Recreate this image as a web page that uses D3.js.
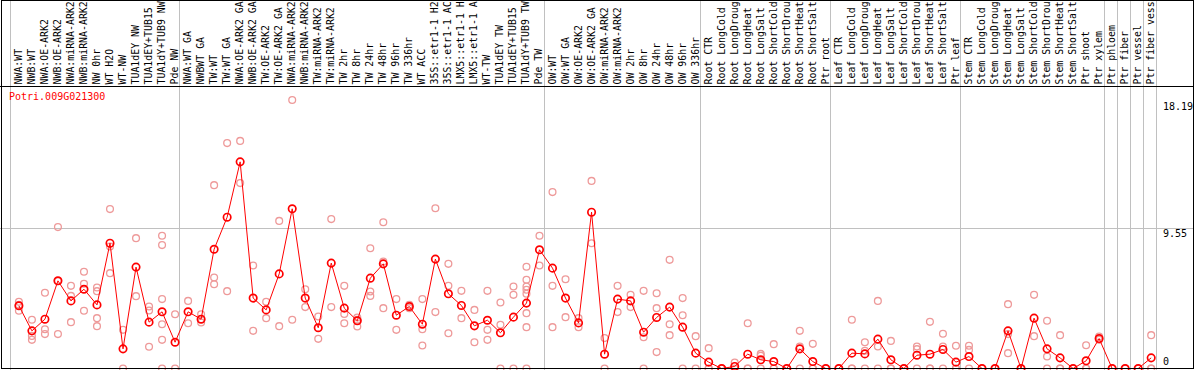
<!DOCTYPE html>
<html>
<head>
<meta charset="utf-8">
<script src="https://cdn.jsdelivr.net/npm/d3@7"></script>
<style>
  body { margin: 0; background: #fff; }
  text { font-family: "DejaVu Sans Mono", monospace; font-size: 10px; }
</style>
</head>
<body>
<script>
const gene = "Potri.009G021300";

// sample names as shown in the header (cut to the visible width)
const labels = [
    "NWA:WT", "NWB:WT", "NWA:OE-ARK2", "NWB:OE-ARK2", "NWA:miRNA-ARK2", "NWB:miRNA-ARK2",
    "NW 0hr", "WT H2O", "WT-NW", "TUA1dEY NW", "TUA1dEY+TUB15", "TUA1dY+TUB9 NW", "Pde NW",
    "NWA:WT GA", "NWBWT GA", "TW:WT", "TW:WT GA", "NWA:OE-ARK2 GA", "NWB:OE-ARK2 GA",
    "TW:OE-ARK2", "TW:OE-ARK2 GA", "NWA:miRNA-ARK2", "NWB:miRNA-ARK2", "TW:miRNA-ARK2",
    "TW:miRNA-ARK2", "TW 2hr", "TW 8hr", "TW 24hr", "TW 48hr", "TW 96hr", "TW 336hr",
    "WT ACC", "35S::etr1-1 H2", "35S::etr1-1 AC", "LMX5::etr1-1 H", "LMX5::etr1-1 A",
    "WT-TW", "TUA1dEY TW", "TUA1dEY+TUB15", "TUA1dY+TUB9 TW", "Pde TW",
    "OW:WT", "OW:WT GA", "OW:OE-ARK2", "OW:OE-ARK2 GA", "OW:miRNA-ARK2", "OW:miRNA-ARK2",
    "OW 2hr", "OW 8hr", "OW 24hr", "OW 48hr", "OW 96hr", "OW 336hr",
    "Root CTR", "Root LongCold", "Root LongDroug", "Root LongHeat", "Root LongSalt",
    "Root ShortCold", "Root ShortDrou", "Root ShortHeat", "Root ShortSalt", "Ptr root",
    "Leaf CTR", "Leaf LongCold", "Leaf LongDroug", "Leaf LongHeat", "Leaf LongSalt",
    "Leaf ShortCold", "Leaf ShortDrou", "Leaf ShortHeat", "Leaf ShortSalt", "Ptr leaf",
    "Stem CTR", "Stem LongCold", "Stem LongDroug", "Stem LongHeat", "Stem LongSalt",
    "Stem ShortCold", "Stem ShortDrou", "Stem ShortHeat", "Stem ShortSalt", "Ptr shoot", "Ptr xylem",
    "Ptr phloem", "Ptr fiber", "Ptr vessel", "Ptr fiber vess"
];

// mean expression per sample
const means = [
    4.25, 2.55, 3.34, 5.94, 4.58, 5.37, 4.31, 8.49, 1.33, 6.87, 3.14, 3.84, 1.78,
    3.84, 3.34, 8.08, 10.25, 14.00, 4.77, 3.97, 6.41, 10.82, 4.77, 2.76, 7.14, 4.09,
    3.23, 6.12, 7.09, 3.61, 4.20, 3.00, 7.41, 5.06, 4.27, 2.89, 3.27, 2.42, 3.48, 4.43, 8.04,
    6.80, 4.77, 3.09, 10.59, 0.97, 4.70, 4.58, 2.46, 3.46, 4.16, 2.80, 1.04,
    0.43, 0, 0.14, 0.97, 0.59, 0.47, 0, 1.33, 0.47, 0,
    0, 1.04, 0.99, 1.99, 0.59, 0, 0.90, 0.97, 1.29, 0.43,
    0.81, 0, 0, 2.55, 0, 3.41, 1.33, 0.72, 0, 0.52, 2.03,
    0, 0, 0, 0.72
];

// individual replicates per sample
const replicates = [
    [4.52, 4.31, 3.91], [3.30, 2.21, 1.94], [5.13, 2.66, 2.33], [9.58, 5.92, 2.33],
    [5.60, 4.92, 3.14], [6.55, 5.74, 3.91], [5.49, 5.24, 3.41, 2.87], [10.80, 8.27, 6.46],
    [2.62, 0], [8.83, 4.90], [4.20, 3.93, 1.47], [8.99, 8.36, 4.70, 3.00, 1.94, 0], [3.68, 0],
    [4.58, 3.07], [3.68, 3.34, 3.12], [12.42, 6.17, 5.71], [15.27, 5.24], [15.42, 12.56],
    [6.98, 2.55], [4.52, 3.41], [10.00, 2.87], [18.19, 3.30], [5.37, 4.16], [3.52, 2.01],
    [10.12, 4.16], [5.60, 3.70, 3.07], [3.46, 3.30, 2.85], [8.15, 5.22, 4.92], [9.91, 7.25, 4.09],
    [4.70, 2.62], [4.31, 4.09], [4.70, 2.66, 1.56], [10.86, 3.82], [7.09, 5.60, 2.39],
    [5.26, 3.41], [3.97, 1.78], [5.26, 2.62, 1.94], [4.47, 2.96, 0], [5.56, 4.99, 0],
    [6.89, 6.01, 5.56, 5.33, 5.06, 3.75, 2.80, 0], [8.99, 6.98],
    [11.95, 5.60, 2.80], [6.05, 3.48], [3.41, 2.80], [12.71, 8.49], [2.06, 0], [5.60, 3.82],
    [4.99, 4.16], [5.26, 2.12, 0], [5.10, 4.09, 1.11], [7.36, 3.00, 2.26], [4.77, 3.61, 0], [2.19, 0],
    [1.38, 0, 0], [0, 0], [0.41, 0], [3.07, 0, 0], [0.99, 0.86, 0], [1.65, 0, 0], [0],
    [2.55, 1.49, 0], [1.67, 0, 0], [0],
    [0], [3.30, 0, 0], [1.78, 1.20, 0], [4.58, 1.49, 0], [1.87, 0, 0], [0], [1.49, 1.31, 0],
    [3.16, 0, 0], [2.35, 1.49, 0], [1.54, 0, 0],
    [1.54, 1.26, 0], [0], [0], [4.36, 2.33, 1.04], [0], [4.99, 2.19], [3.23, 0.81, 0],
    [2.26, 0, 0], [0], [1.58, 0, 0], [2.17, 1.94],
    [0], [0], [0], [2.26, 0, 0]
];

// index of the first sample of each group (last entry = end)
const groupStarts = [0, 13, 41, 53, 63, 73, 84, 85, 86, 87, 88];
const yTicks = [0, 9.55, 18.19];

const width = 1194, height = 370;

const svg = d3.select("body").append("svg")
    .attr("width", width)
    .attr("height", height);

const x = d3.scaleLinear().domain([0, labels.length]).range([10.3, 1155.6]);
const cx = i => x(i) + 8.6;
const y = d3.scaleLinear().domain([0, d3.max(yTicks)]).range([368.5, 100]);

// grid
svg.selectAll(".vgrid")
    .data(groupStarts)
    .enter().append("line")
    .attr("x1", d => Math.round(x(d)) + 0.5)
    .attr("x2", d => Math.round(x(d)) + 0.5)
    .attr("y1", 0)
    .attr("y2", height)
    .attr("stroke", "#c0c0c0");

svg.append("line")
    .attr("x1", 0).attr("x2", width)
    .attr("y1", Math.round(y(9.55)) + 0.5)
    .attr("y2", Math.round(y(9.55)) + 0.5)
    .attr("stroke", "#c0c0c0");

// sample labels
svg.selectAll(".lab")
    .data(labels)
    .enter().append("text")
    .attr("transform", (d, i) => `translate(${cx(i) + 3},84.5) rotate(-90)`)
    .attr("fill", "#000")
    .style("font-size", "9.9px")
    .text(d => d);

svg.append("text")
    .attr("x", 9)
    .attr("y", 100)
    .attr("fill", "#ff0000")
    .text(gene);

// replicates
const repPts = [];
replicates.forEach((r, i) => r.forEach(v => repPts.push({ i: i, v: v })));

svg.selectAll(".rep")
    .data(repPts)
    .enter().append("circle")
    .attr("cx", d => cx(d.i))
    .attr("cy", d => y(d.v))
    .attr("r", 3.4)
    .attr("fill", "none")
    .attr("stroke", "#ee9a9a")
    .attr("stroke-width", 1.3);

// mean line + points
const line = d3.line()
    .x((d, i) => cx(i))
    .y(d => y(d));

svg.append("path")
    .datum(means)
    .attr("d", line)
    .attr("fill", "none")
    .attr("stroke", "#ff0000")
    .attr("stroke-width", 1);

svg.selectAll(".mean")
    .data(means)
    .enter().append("circle")
    .attr("cx", (d, i) => cx(i))
    .attr("cy", d => y(d))
    .attr("r", 3.7)
    .attr("fill", "none")
    .attr("stroke", "#ff0000")
    .attr("stroke-width", 1.7);

// value labels on the right
svg.selectAll(".ytick")
    .data(yTicks)
    .enter().append("text")
    .attr("x", 1163)
    .attr("y", d => y(d) + (d === 0 ? -3.5 : 9.5))
    .attr("fill", "#000")
    .text(d => d);

// frame
svg.append("line")
    .attr("x1", 0).attr("x2", width)
    .attr("y1", 86.5).attr("y2", 86.5)
    .attr("stroke", "#000");

svg.append("rect")
    .attr("x", 1.5).attr("y", 0.5)
    .attr("width", 1192).attr("height", 368)
    .attr("fill", "none")
    .attr("stroke", "#000");
</script>
</body>
</html>
